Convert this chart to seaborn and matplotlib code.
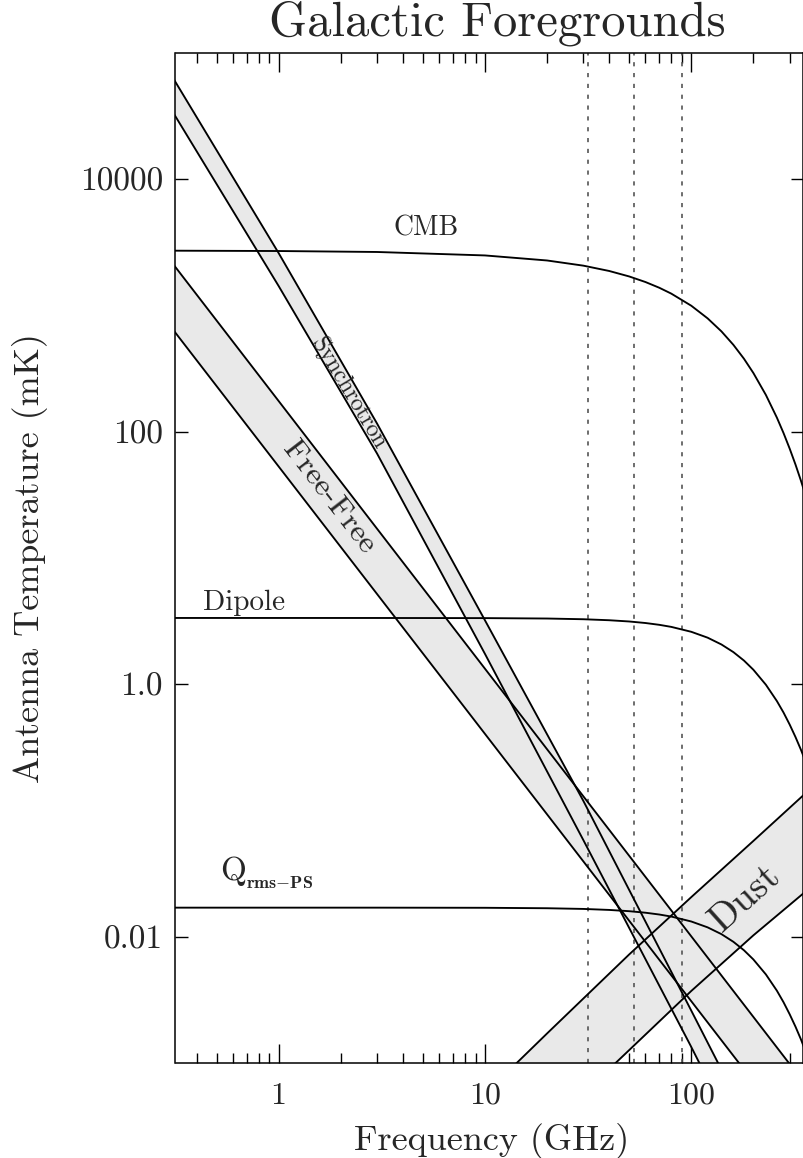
import matplotlib
matplotlib.use("Agg")
import matplotlib.pyplot as plt
import seaborn as sns
import pandas as pd
from matplotlib.ticker import FixedLocator, NullLocator, FixedFormatter, NullFormatter

# ---------------- data ----------------
freq_bb = [0.3, 1, 3, 10, 20, 30, 40, 50, 60, 70, 80, 100, 120, 140, 160,
           180, 200, 230, 260, 280, 300, 320, 340, 360]
cmb = [2718, 2701, 2654, 2492, 2273, 2068, 1877, 1699, 1534, 1382, 1242, 996,
       791, 624, 488, 379, 292, 195.6, 129.4, 97.7, 73.4, 55.0, 41.0, 30.5]
dipole = [3.35, 3.35, 3.349, 3.341, 3.316, 3.273, 3.214, 3.142, 3.055, 2.956,
          2.847, 2.603, 2.339, 2.066, 1.797, 1.541, 1.303, 0.991, 0.736, 0.597,
          0.479, 0.382, 0.303, 0.239]
q_rms = [0.0170, 0.0170, 0.0170, 0.01696, 0.01682, 0.01661, 0.01631, 0.01594,
         0.01550, 0.01500, 0.01445, 0.01321, 0.01187, 0.01049, 0.00912, 0.00782,
         0.00661, 0.00503, 0.00374, 0.00303, 0.00243, 0.00194, 0.00154, 0.00121]

freq_sync = [0.3, 1, 3, 10, 30, 100, 200]
sync_hi = [67900, 2600, 116, 3.21, 0.119, 0.0026, 0.000284]
sync_lo = [36200, 1426, 67.1, 1.74, 0.0582, 0.00134, 0.000142]

freq_ff = [0.3, 3, 30, 400]
ff_hi = [2249, 17.04, 0.1294, 0.000533]
ff_lo = [679, 5.18, 0.0395, 0.000164]

freq_dust = [10, 20, 50, 100, 200, 350, 400]
dust_hi = [0.000569, 0.001714, 0.00724, 0.0206, 0.0574, 0.1324, 0.1607]
dust_lo = [0.000104, 0.000305, 0.001265, 0.00372, 0.01026, 0.0221, 0.0267]

dmr_bands = [31.5, 53, 90]

xticks = [1, 10, 100]
xtick_labels = ["1", "10", "100"]
yticks = [0.01, 1.0, 100, 10000]
ytick_labels = ["0.01", "1.0", "100", "10000"]

# ---------------- style ----------------
sns.set_style("ticks")
plt.rcParams["font.family"] = ["cmr10", "DejaVu Serif"]
plt.rcParams["mathtext.fontset"] = "cm"
plt.rcParams["axes.formatter.use_mathtext"] = True
plt.rcParams["axes.edgecolor"] = "black"
plt.rcParams["axes.linewidth"] = 1.1

W, H = 804, 1158
fig = plt.figure(figsize=(W / 100, H / 100), dpi=100)
ax = fig.add_axes([175.5 / W, 1 - 1063 / H, (803.5 - 175.5) / W, (1063 - 53) / H])
ax.set_xscale("log")
ax.set_yscale("log")
ax.set_xlim(10 ** -0.5, 10 ** 2.544)
ax.set_ylim(1e-3, 1e5)

band_col = "#e9e9e9"
ax.fill_between(freq_sync, sync_lo, sync_hi, color=band_col, lw=0, zorder=1)
ax.fill_between(freq_ff, ff_lo, ff_hi, color=band_col, lw=0, zorder=1)
ax.fill_between(freq_dust, dust_lo, dust_hi, color=band_col, lw=0, zorder=1)

lw = 1.35
for fx, fy in [(freq_bb, cmb), (freq_bb, dipole), (freq_bb, q_rms),
               (freq_sync, sync_hi), (freq_sync, sync_lo),
               (freq_ff, ff_hi), (freq_ff, ff_lo),
               (freq_dust, dust_hi), (freq_dust, dust_lo)]:
    df = pd.DataFrame({"f": fx, "t": fy})
    sns.lineplot(data=df, x="f", y="t", ax=ax, color="black", lw=lw,
                 estimator=None, sort=False, zorder=3)

for b in dmr_bands:
    ax.axvline(b, color="#555555", lw=1.2, ls=(0, (2.5, 4)), zorder=2)

ax.set_xlabel("")
ax.set_ylabel("")

# ticks
ax.xaxis.set_major_locator(FixedLocator(xticks))
ax.xaxis.set_major_formatter(FixedFormatter(xtick_labels))
minor_x = [m * 10.0 ** e for e in (-1, 0, 1, 2) for m in range(2, 10)]
ax.xaxis.set_minor_locator(FixedLocator(minor_x))
ax.xaxis.set_minor_formatter(NullFormatter())
ax.yaxis.set_major_locator(FixedLocator(yticks))
ax.yaxis.set_major_formatter(FixedFormatter(ytick_labels))
ax.yaxis.set_minor_locator(NullLocator())
ax.tick_params(which="both", direction="in", top=True, right=True,
               color="black", width=1.0)
ax.tick_params(axis="x", which="major", length=14, pad=14, labelsize=23)
ax.tick_params(axis="x", which="minor", length=7)
ax.tick_params(axis="y", which="major", length=9, pad=9, labelsize=24)

# labels
fig.text(497 / W, 1 - 35 / H, "Galactic Foregrounds", ha="center",
         va="baseline", fontsize=35)
fig.text(492 / W, 1 - 1150 / H, "Frequency (GHz)", ha="center",
         va="baseline", fontsize=26)
fig.text(30 / W, 1 - 558 / H, "Antenna Temperature (mK)", ha="center",
         va="center", rotation=90, fontsize=26)

def axfrac(px, py):
    return (px - 175.5) / 628.0, (1063 - py) / 1010.0

x, y = axfrac(426, 228)
ax.text(x, y, "CMB", transform=ax.transAxes, ha="center", va="center", fontsize=20)
x, y = axfrac(244, 603)
ax.text(x, y, "Dipole", transform=ax.transAxes, ha="center", va="center", fontsize=21)
x, y = axfrac(220, 880)
ax.text(x, y, "Q", transform=ax.transAxes, ha="left", va="baseline", fontsize=24)
x, y = axfrac(246, 888)
ax.text(x, y, r"$\mathbf{rms{-}PS}$", transform=ax.transAxes,
        ha="left", va="baseline", fontsize=13)
x, y = axfrac(349, 393)
ax.text(x, y, "Synchrotron", transform=ax.transAxes, ha="center", va="center",
        rotation=-59, rotation_mode="anchor", fontsize=17, zorder=4)
x, y = axfrac(329, 497)
ax.text(x, y, "Free-Free", transform=ax.transAxes, ha="center", va="center",
        rotation=-52.4, rotation_mode="anchor", fontsize=23, zorder=4)
x, y = axfrac(745, 898)
ax.text(x, y, "Dust", transform=ax.transAxes, ha="center", va="center",
        rotation=42, rotation_mode="anchor", fontsize=28, zorder=4)

fig.savefig("out.png", dpi=100)
